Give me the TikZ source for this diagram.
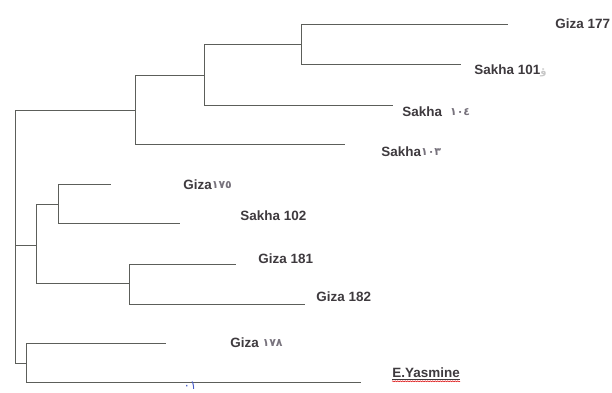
\documentclass[tikz,border=0pt]{standalone}
\usepackage{fontspec}
\setmainfont{Liberation Sans}
\newfontfamily\arabicfont{DejaVu Sans}
\usetikzlibrary{decorations.pathmorphing}
\definecolor{treeL}{RGB}{92,94,90}
\definecolor{treeT}{RGB}{62,58,62}
\definecolor{treeN}{RGB}{120,115,125}
\definecolor{treeB}{RGB}{70,90,200}
\newcommand{\ardig}[1]{\raisebox{1.5bp}{\arabicfont\fontsize{11}{11}\selectfont\color{treeN}#1}}

\begin{document}
\begin{tikzpicture}[x=1bp,y=-1bp,line width=0.9bp,treeL,
  leaf/.style={anchor=west,inner sep=0pt,text=treeT,font=\fontsize{13.5}{14}\selectfont\bfseries}]
\useasboundingbox (0,0) rectangle (612,392);
% inner nodes of the tree
\coordinate (root) at (15,236);
\coordinate (nU) at (135,110);
\coordinate (nU2) at (204,75);
\coordinate (nU3) at (301,44);
\coordinate (nAB) at (36,245);
\coordinate (nA) at (58,204);
\coordinate (nB) at (129,283);
\coordinate (nC) at (26,363);
% branch tips
\coordinate (lG177) at (508,24);
\coordinate (lS101) at (461,64);
\coordinate (lS104) at (393,105);
\coordinate (lS103) at (345,144);
\coordinate (lG175) at (111,184);
\coordinate (lS102) at (180,223);
\coordinate (lG181) at (236,264);
\coordinate (lG182) at (305,304);
\coordinate (lG178) at (166,343);
\coordinate (lEY) at (361,382);
\foreach \a/\b in {root/nU,root/nAB,root/nC,nU/nU2,nU/lS103,nU2/nU3,nU2/lS104,nU3/lG177,nU3/lS101,
  nAB/nA,nAB/nB,nA/lG175,nA/lS102,nB/lG181,nB/lG182,nC/lG178,nC/lEY}
  \draw (\a) |- (\b);
% labels
\node[leaf] (tG177) at (555,24) {Giza 177};
\node[leaf] (tS101) at (474,71) {Sakha 101{\arabicfont\fontsize{10}{10}\selectfont\color{black!22}ؤ}};
\node[leaf] (tS104) at (402,112) {Sakha\hspace{8bp}\ardig{١٠٤}};
\node[leaf] (tS103) at (381,152) {Sakha\ardig{١٠٣}};
\node[leaf] (tG175) at (183,185) {Giza\ardig{١٧٥}};
\node[leaf] (tS102) at (240,216) {Sakha 102};
\node[leaf] (tG181) at (258,259) {Giza 181};
\node[leaf] (tG182) at (316,297) {Giza 182};
\node[leaf] (tG178) at (230,343) {Giza \ardig{١٧٨}};
\node[leaf] (tEY) at (392,373) {E.Yasmine};
\draw[line width=0.7bp,treeT] ([yshift=-1.5bp]tEY.base west) -- ([yshift=-1.5bp]tEY.base east);
\draw[line width=0.5bp,red!85!black,decorate,decoration={snake,amplitude=0.5bp,segment length=2.5bp}] ([yshift=-3.5bp]tEY.base west) -- ([yshift=-3.5bp]tEY.base east);
\node[inner sep=0pt,text=treeB,font=\arabicfont\fontsize{12}{12}\selectfont] (tMark) at (190,386) {٠١};
\end{tikzpicture}
\end{document}
